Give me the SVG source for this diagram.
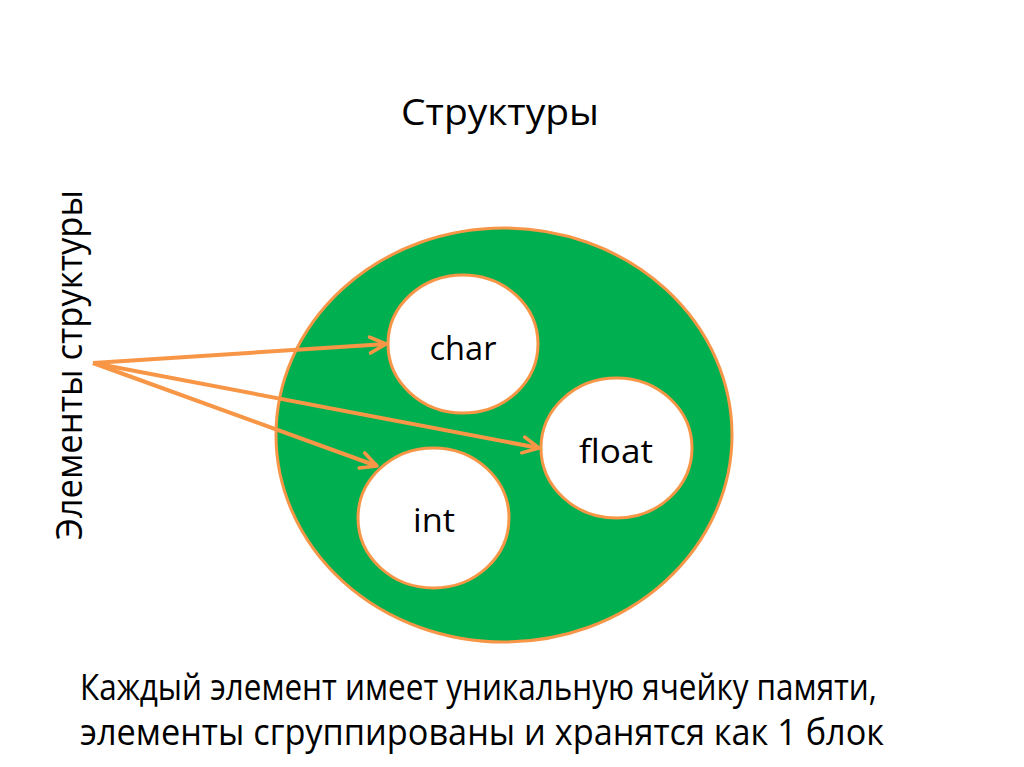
<svg xmlns="http://www.w3.org/2000/svg" width="1024" height="767" viewBox="0 0 1024 767">
<style>
text{font-family:"Open Sans","Noto Sans","Liberation Sans",sans-serif;fill:#000}
.t{font-size:36px}
.lbl{font-size:32px;text-anchor:middle}
.inner{fill:#fff;stroke:#F79646;stroke-width:3}
.arr{stroke:#F79646;stroke-width:4;fill:none;marker-end:url(#ah)}
</style>
<defs>
<marker id="ah" viewBox="0 0 10 10" refX="9" refY="5" markerWidth="5" markerHeight="5" orient="auto" markerUnits="strokeWidth">
<path d="M1,1 L9,5 L1,9" fill="none" stroke="#F79646" stroke-width="1.8" stroke-linecap="round" stroke-linejoin="round"/>
</marker>
</defs>
<rect width="1024" height="767" fill="#fff"/>
<text class="t" x="500" y="125" text-anchor="middle" textLength="198" lengthAdjust="spacingAndGlyphs">Структуры</text>
<text class="t" transform="translate(82,365) rotate(-90)" text-anchor="middle" textLength="350" lengthAdjust="spacingAndGlyphs">Элементы структуры</text>
<g id="outer"><ellipse cx="504" cy="435" rx="228" ry="207" fill="#00B050" stroke="#F79646" stroke-width="3"/></g>
<g id="char"><ellipse class="inner" cx="463" cy="344" rx="75" ry="69"/><text class="lbl" x="463" y="360" textLength="67" lengthAdjust="spacingAndGlyphs">char</text></g>
<g id="float"><ellipse class="inner" cx="616.5" cy="448" rx="75.5" ry="70"/><text class="lbl" x="616" y="463" textLength="74" lengthAdjust="spacingAndGlyphs">float</text></g>
<g id="int"><ellipse class="inner" cx="433.5" cy="518" rx="75.5" ry="70"/><text class="lbl" x="434" y="532" textLength="42" lengthAdjust="spacingAndGlyphs">int</text></g>
<g id="connectors">
<line class="arr" x1="93" y1="363" x2="386" y2="344"/>
<line class="arr" x1="93" y1="363" x2="539" y2="448"/>
<line class="arr" x1="93" y1="363" x2="377" y2="466"/>
</g>
<text class="t" x="80" y="700" textLength="797" lengthAdjust="spacingAndGlyphs">Каждый элемент имеет уникальную ячейку памяти,</text>
<text class="t" x="80" y="745" textLength="804" lengthAdjust="spacingAndGlyphs">элементы сгруппированы и хранятся как 1 блок</text>
</svg>
